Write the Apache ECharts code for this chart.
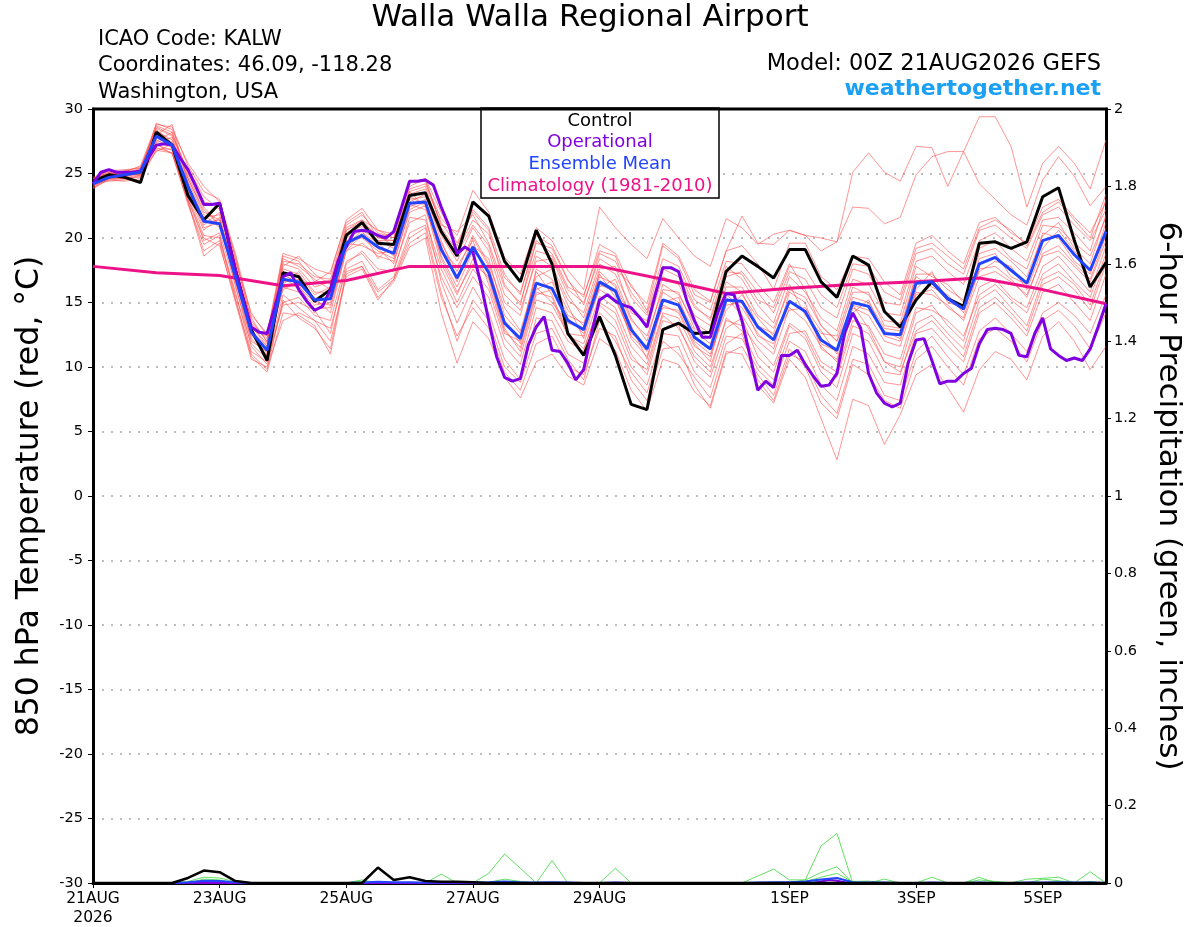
<!DOCTYPE html>
<html><head><meta charset="utf-8">
<script src="https://cdn.jsdelivr.net/npm/echarts@6/dist/echarts.min.js"></script>
<style>html,body{margin:0;padding:0;background:#fff}#c{width:1200px;height:927px}</style>
</head><body><div id="c"></div>
<script>
// ---- tick labels ----
const tickHours = [0, 48, 96, 144, 192, 264, 312, 360];
const tickLabels = ['21AUG\n2026', '23AUG', '25AUG', '27AUG', '29AUG', '1SEP', '3SEP', '5SEP'];

// ---- 850 hPa temperature (6-hourly, 65 steps) ----
const controlT = [24.4,24.9,24.7,24.3,28.2,27.2,23.3,21.4,22.7,17.5,12.9,10.5,17.3,17.0,15.1,16.0,
20.2,21.2,19.6,19.5,23.3,23.5,20.5,18.6,22.8,21.7,18.2,16.6,20.6,18.0,12.6,10.9,
13.9,10.9,7.1,6.7,12.9,13.4,12.6,12.7,17.4,18.6,17.8,16.9,19.1,19.1,16.6,15.4,
18.6,17.9,14.3,13.1,15.2,16.6,15.3,14.7,19.6,19.7,19.2,19.7,23.2,23.9,19.8,16.2,18.1];
const meanT = [24.2,24.7,24.9,25.1,27.9,27.2,24.0,21.3,21.1,17.0,12.7,11.3,16.8,16.6,15.2,15.3,
19.6,20.2,19.3,18.8,22.7,22.8,19.1,16.9,19.3,17.3,13.4,12.2,16.5,16.1,13.6,12.9,
16.6,15.9,12.9,11.4,15.2,14.8,12.3,11.4,15.2,15.1,13.1,12.1,15.1,14.3,12.1,11.3,
15.0,14.7,12.6,12.5,16.5,16.6,15.3,14.5,18.0,18.5,17.5,16.5,19.8,20.2,18.7,17.5,20.5];
// operational (3-hourly, 129 steps)
const operT = [24.2,25.1,25.3,25.1,25.1,25.1,25.2,26.2,27.2,27.3,27.2,26.2,25.3,24.0,22.6,22.6,
22.7,20.1,17.5,15.2,13.1,12.7,12.6,14.7,17.0,17.3,16.0,15.1,14.4,14.7,16.0,18.3,
19.3,20.5,20.6,20.5,20.2,20.0,20.5,22.4,24.4,24.4,24.5,24.1,22.4,20.9,18.8,19.3,
18.9,16.5,13.6,10.8,9.2,8.9,9.1,11.7,13.1,13.9,11.3,11.2,10.3,9.0,9.8,12.6,
15.2,15.6,15.1,14.8,14.6,13.9,13.1,15.5,17.7,17.7,17.4,15.2,13.6,12.3,12.3,14.3,
15.7,15.6,13.6,10.9,8.2,8.9,8.4,10.9,10.9,11.3,10.2,9.3,8.5,8.6,9.5,12.7,
14.2,13.0,9.5,8.0,7.2,6.9,7.2,10.3,12.1,12.2,10.5,8.7,8.9,8.9,9.5,9.9,
11.8,12.9,13.0,12.9,12.6,10.9,10.8,12.6,13.8,11.4,10.9,10.5,10.7,10.5,11.4,13.1,14.9];
// climatology (daily)
const climHours = [0,24,48,72,96,120,144,168,192,216,240,264,288,312,336,360,384];
const climT = [17.8,17.3,17.1,16.3,16.7,17.8,17.8,17.8,17.8,16.8,15.7,16.1,16.4,16.6,16.9,16.0,14.9];

// ensemble members (6-hourly)
const mem01 = [24.6,25.0,25.0,25.3,28.6,28.0,25.2,22.8,22.5,18.6,13.6,12.0,18.2,18.0,17.0,16.8,21.0,21.8,20.4,20.0,23.8,24.2,21.5,20.2,23.7,22.0,18.5,17.2,20.8,19.8,17.5,16.0,22.4,20.8,19.5,18.4,21.5,20.0,18.6,17.8,21.5,20.8,19.5,20.3,20.6,20.2,20.0,19.7,25.1,26.6,25.1,24.4,27.1,27.0,24.0,26.7,29.4,29.4,27.1,22.4,25.8,27.1,25.8,23.8,27.6];
const mem02 = [24.3,24.8,25.1,25.0,28.9,28.4,25.8,24.0,22.8,18.8,14.0,12.6,18.8,18.4,17.6,17.2,21.4,22.3,20.6,20.3,24.3,24.6,20.8,19.0,21.4,20.3,16.9,15.8,19.6,19.2,16.7,15.4,19.5,18.8,16.2,14.9,19.6,18.6,16.0,15.1,19.0,21.7,19.6,19.5,20.6,20.2,19.0,19.7,22.4,22.3,21.1,21.6,24.9,26.3,26.7,26.7,24.2,23.0,21.8,21.0,24.5,26.3,24.8,22.5,24.0];
const mem03 = [23.9,24.5,24.4,24.6,26.8,26.6,22.6,19.5,20.2,15.3,10.8,9.6,14.2,14.0,13.2,11.0,17.2,17.8,15.4,16.6,19.3,20.0,14.2,10.3,13.5,12.2,9.2,7.6,10.4,11.0,9.3,8.6,12.2,11.3,8.2,6.6,10.6,10.2,8.1,7.0,11.2,11.0,8.6,7.2,10.6,9.2,6.0,2.8,7.5,7.0,4.0,6.3,9.4,10.2,8.4,6.5,9.8,11.2,10.6,9.0,12.4,13.5,12.0,9.8,11.6];
const mem04 = [24.1,24.9,24.7,25.2,27.6,27.0,23.4,20.6,21.6,16.2,12.2,10.9,16.2,15.8,14.5,14.6,19.0,19.6,18.6,18.2,22.0,22.5,18.0,15.6,18.4,16.8,12.8,11.5,15.8,15.4,12.4,11.8,15.5,14.6,11.6,10.2,14.2,13.8,11.2,10.0,13.6,13.2,11.5,10.1,13.4,12.5,10.0,9.2,13.2,12.6,10.4,10.0,14.2,14.8,13.2,12.0,16.2,16.8,15.4,14.6,17.8,18.6,17.2,15.8,19.4];
const mem05 = [24.5,25.1,24.9,25.0,28.3,27.6,24.6,22.0,21.4,17.6,13.2,11.8,17.6,17.2,15.6,16.2,20.4,20.9,19.8,19.2,23.0,23.2,20.2,18.2,20.8,19.0,15.0,14.0,18.6,17.8,15.2,14.2,18.0,17.2,14.6,13.0,17.0,16.4,14.0,13.2,17.0,17.4,15.8,14.2,17.4,16.8,14.6,13.8,17.6,17.2,15.0,14.8,18.8,19.2,18.0,17.2,20.6,21.0,20.0,19.2,21.8,22.4,21.0,19.8,22.2];
const mem06 = [24.0,24.6,24.6,24.8,27.2,26.8,23.0,19.8,20.4,16.4,11.6,10.2,15.0,15.4,14.0,13.6,18.2,18.8,17.2,17.6,21.2,21.8,16.6,13.4,16.2,14.2,10.6,9.0,13.8,13.6,11.0,10.3,14.2,13.0,10.0,8.6,12.6,12.4,9.6,8.4,12.4,12.2,9.8,8.6,12.0,11.2,8.6,7.4,11.6,11.0,8.8,8.6,12.6,13.0,11.6,10.4,14.2,15.0,13.8,12.4,15.8,16.4,15.0,13.6,17.2];
const mem07 = [24.4,24.7,25.2,25.5,28.0,28.8,24.2,21.0,22.0,17.8,12.6,11.4,17.0,16.0,14.8,15.0,19.4,20.6,18.4,19.6,23.6,22.4,19.6,17.4,20.2,18.0,14.6,12.8,17.0,17.6,14.8,12.2,16.2,16.8,13.8,12.0,16.4,15.6,13.4,12.6,16.6,15.8,13.2,12.6,16.4,14.0,12.6,12.4,16.2,15.6,13.6,13.4,17.8,17.0,16.4,15.0,19.2,19.8,18.4,17.6,21.0,20.8,19.6,18.6,21.6];
const mem08 = [23.8,24.6,24.8,25.0,27.4,27.8,23.8,20.8,21.2,16.6,13.0,11.0,16.4,17.4,15.8,15.8,19.8,20.0,19.0,18.4,22.4,23.0,18.6,16.2,19.0,17.6,13.6,11.8,16.0,16.6,14.0,13.4,17.2,15.4,12.4,11.2,15.8,15.0,12.8,11.8,15.6,14.6,12.6,11.4,15.8,15.0,11.4,10.6,14.6,14.0,12.0,11.6,15.6,16.0,14.6,13.8,17.6,17.8,16.8,15.4,18.8,19.4,18.0,16.8,20.2];
const mem09 = [24.7,25.2,25.0,25.4,28.4,27.4,25.4,23.2,22.2,18.2,14.2,12.4,18.6,18.2,16.6,17.4,21.2,22.0,20.0,20.4,24.0,24.6,22.0,19.6,22.2,20.8,17.2,15.6,20.2,19.4,16.8,14.8,18.8,18.2,15.8,14.2,18.4,17.8,15.2,14.4,18.2,18.0,16.4,15.0,18.0,16.0,13.2,12.0,14.8,13.0,10.4,9.6,12.8,13.6,12.2,10.8,14.6,15.4,14.2,12.8,16.4,17.0,16.0,14.4,18.0];
const mem10 = [24.2,24.4,24.5,24.9,26.9,26.9,22.8,18.6,19.6,15.0,10.6,10.0,13.6,14.2,13.6,12.0,17.0,17.6,15.2,16.8,19.6,20.4,15.4,12.4,14.6,13.0,9.6,8.2,11.8,12.4,10.0,9.4,13.0,12.4,9.0,7.4,11.4,11.6,8.6,6.8,11.0,11.6,9.4,7.8,11.4,10.0,7.2,6.0,10.2,9.4,7.4,6.8,10.6,11.6,10.0,8.6,12.2,13.0,12.0,10.4,13.6,14.4,13.2,11.4,14.2];
const mem11 = [24.3,25.0,24.8,25.3,28.1,27.1,24.4,21.8,20.8,17.2,12.8,11.6,16.6,16.8,15.0,14.8,19.2,20.4,19.6,18.6,22.6,22.2,19.0,17.8,19.8,16.4,12.6,12.0,17.4,15.6,12.6,12.4,17.4,16.2,13.2,10.6,15.0,15.4,12.0,11.0,14.4,15.6,13.8,12.4,14.4,14.6,12.8,11.0,15.4,15.0,13.0,12.8,17.0,16.2,15.6,14.2,18.4,18.8,17.0,16.4,20.4,20.0,18.2,17.2,20.8];
const mem12 = [24.0,24.8,25.0,24.9,27.8,27.4,23.6,21.6,21.8,16.8,12.0,11.2,17.2,16.4,14.2,15.6,19.6,19.4,18.8,19.0,22.8,23.4,19.8,16.8,19.4,18.4,14.0,12.6,16.2,15.0,13.4,13.0,16.0,15.2,12.6,11.6,14.6,14.4,11.8,10.4,15.4,14.0,12.0,11.0,14.6,13.6,11.6,10.4,14.2,15.2,12.4,12.0,16.0,17.4,15.0,14.6,17.4,18.2,17.8,16.0,19.2,20.6,19.0,17.4,21.2];
const mem13 = [24.6,25.1,25.1,25.6,28.8,28.6,25.6,23.6,23.0,18.4,13.4,12.2,17.8,18.6,17.2,16.4,20.8,21.4,20.6,20.0,24.4,24.4,21.0,20.5,21.8,19.6,16.2,15.0,19.0,18.6,16.0,15.0,18.4,17.6,16.4,14.4,19.4,18.4,15.6,15.0,19.0,19.4,18.0,16.0,19.6,19.6,17.0,16.0,18.6,18.4,16.6,15.6,19.6,20.2,19.0,18.0,21.2,21.6,20.4,19.6,22.4,23.0,21.6,20.4,22.8];
const mem14 = [24.2,24.6,24.7,25.1,27.0,26.6,23.2,20.2,20.0,15.8,11.2,10.4,15.6,14.6,13.6,13.0,17.6,18.2,16.0,17.0,20.4,21.0,17.0,14.6,17.0,15.4,11.6,10.2,14.6,14.2,12.0,11.2,15.0,14.2,11.0,9.4,13.6,13.2,10.4,9.2,13.0,13.8,10.8,9.6,13.2,12.2,9.6,8.4,12.6,12.0,9.6,9.4,13.4,14.0,12.6,11.4,15.2,16.0,14.6,13.2,16.8,17.4,16.4,14.8,18.4];
const mem15 = [24.4,24.9,25.2,25.2,28.5,27.9,24.8,22.4,21.0,17.4,13.8,11.9,18.0,17.6,16.2,16.6,20.6,21.2,20.2,19.4,23.4,23.8,20.6,18.8,21.0,19.4,15.6,14.4,18.2,18.4,15.6,13.8,17.6,17.8,14.2,13.6,17.6,17.0,14.6,13.8,17.8,16.8,14.8,13.4,17.0,15.8,13.8,12.8,16.8,16.4,14.2,14.0,18.2,18.6,17.4,16.4,19.8,20.4,19.2,18.2,21.4,21.6,20.4,19.0,23.0];
const mem16 = [23.9,24.7,24.6,24.7,27.3,26.5,22.8,19.0,19.8,15.6,11.8,10.6,14.8,15.0,14.4,12.6,18.0,19.0,17.6,17.4,21.6,21.4,17.6,15.0,17.6,16.0,12.2,10.8,15.2,14.8,12.6,11.4,14.8,13.6,10.6,9.8,14.0,13.0,10.8,9.6,13.8,12.8,10.2,9.0,12.6,12.8,10.4,9.6,13.6,13.2,11.0,10.6,14.6,14.4,13.6,12.4,15.6,16.4,15.2,14.2,17.2,18.0,16.6,15.4,18.8];
const mem17 = [24.5,24.8,24.9,25.2,28.0,27.0,24.0,21.2,21.4,17.0,12.4,11.4,16.0,16.6,15.4,14.2,19.0,20.2,19.2,18.0,22.2,22.8,18.4,15.8,18.0,17.0,13.0,11.2,15.6,16.0,13.8,12.6,16.4,15.8,12.2,10.8,14.8,14.2,11.6,10.8,14.8,15.0,12.4,11.8,15.2,14.2,11.8,11.2,14.8,14.4,12.8,12.2,15.8,15.6,14.8,13.6,17.0,17.4,16.6,15.6,18.6,19.0,17.8,16.6,19.8];
const mem18 = [24.1,25.0,25.1,24.8,27.5,28.2,24.6,22.2,21.0,17.8,13.2,11.6,17.4,16.2,15.0,15.6,20.0,20.6,19.8,19.8,23.2,22.6,19.4,16.6,20.0,17.8,13.6,12.2,17.6,16.8,14.4,13.2,17.0,16.4,13.6,12.4,16.0,15.8,13.0,12.2,16.2,16.2,14.0,13.0,16.0,15.4,13.2,12.0,15.8,15.8,13.2,13.0,17.2,17.2,16.0,15.2,18.8,19.2,18.2,17.0,20.2,21.2,19.2,18.0,21.8];
const mem19 = [24.3,24.5,24.6,25.0,26.7,27.3,23.0,20.0,19.4,15.2,11.0,9.8,15.2,13.8,13.0,11.4,17.4,17.8,15.8,16.8,20.0,20.8,15.8,12.0,15.2,13.6,10.0,8.8,12.6,13.0,10.6,9.0,13.6,12.0,9.6,8.0,12.0,11.0,9.2,7.6,11.8,12.6,9.0,7.4,11.0,10.4,7.8,6.4,10.6,10.2,7.8,7.4,11.2,12.4,10.8,9.4,12.8,13.8,12.6,11.2,14.2,15.0,14.0,12.6,15.6];
const mem20 = [24.6,25.2,25.3,25.4,28.7,28.2,25.0,22.6,22.6,18.0,13.0,12.4,18.4,17.8,16.8,16.0,20.6,21.4,20.0,19.8,23.6,24.0,21.2,19.4,22.0,20.6,16.4,14.8,19.8,18.8,16.2,15.6,19.0,18.6,15.4,14.0,17.8,17.4,14.8,13.6,17.4,17.2,15.2,14.6,17.8,17.6,15.6,14.6,18.0,17.8,15.8,15.2,19.2,19.6,18.6,17.6,20.8,21.4,20.6,19.4,22.0,22.8,21.4,20.0,23.4];
const membersT = [mem01,mem02,mem03,mem04,mem05,mem06,mem07,mem08,mem09,mem10,mem11,mem12,mem13,mem14,mem15,mem16,mem17,mem18,mem19,mem20];

// ---- 6-hour precipitation (inches) ----
const controlP = [0,0,0,0,0,0,0.013,0.032,0.028,0.005,0,0,0,0,0,0,
0,0,0.04,0.008,0.015,0.005,0.003,0.003,0.002,0,0,0,0,0,0,0,
0,0,0,0,0,0,0,0,0,0,0,0,0,0,0,0,
0,0,0,0,0,0,0,0,0,0,0,0,0,0,0,0,0];
const meanP = [0,0,0,0,0,0,0.002,0.006,0.005,0.002,0,0,0,0,0,0,
0,0.001,0.003,0.002,0.002,0.001,0.002,0.001,0.001,0.002,0.004,0.002,0.001,0.002,0.001,0,
0,0.001,0,0,0,0,0,0,0,0,0.001,0.002,0.002,0.004,0.009,0.013,
0.002,0.001,0.001,0,0,0.001,0,0,0.001,0,0,0.001,0.001,0.002,0.001,0.001,0];
const operP = [0,0,0,0,0,0,0,0,0,0,0,0,0,0,0,0,0,0,0,0,0,0,0,0,0,0,0,0,0,0,0,0,
0,0,0,0,0,0,0,0,0,0,0,0,0,0,0,0,0,0,0,0,0,0,0,0,0,0,0,0,0,0,0,0,
0,0,0,0,0,0,0,0,0,0,0,0,0,0,0,0,0,0,0,0,0,0,0,0,0,0,0,0,0.004,0.008,0.006,0.002,
0,0,0,0,0,0,0,0,0,0,0,0,0,0,0,0,0,0,0,0,0,0,0,0,0,0,0,0,0,0,0,0,0];
const pm01 = [0,0,0,0,0,0,0,0,0,0,0,0,0,0,0,0,0,0,0,0,0,0,0.023,0,0,0,0,0,0,0,0,0,0,0.038,0,0,0,0,0,0,0,0,0,0,0,0.008,0.096,0.128,0,0,0,0,0,0,0,0,0,0,0,0,0,0,0,0,0];
const pm02 = [0,0,0,0,0,0,0,0.004,0.003,0,0,0,0,0,0,0,0,0,0,0,0,0,0,0,0,0.025,0.075,0.038,0,0.058,0,0,0,0,0,0,0,0,0,0,0,0,0,0,0,0,0,0,0,0,0,0,0,0,0,0,0,0,0,0,0,0,0,0,0];
const pm03 = [0,0,0,0,0,0,0.004,0.015,0.013,0.003,0,0,0,0,0,0,0,0.008,0,0,0,0,0,0,0,0,0,0,0,0,0,0,0,0,0,0,0,0,0,0,0,0,0.018,0.036,0.008,0.008,0.027,0.042,0,0,0,0,0,0,0,0,0,0,0,0,0,0,0,0,0];
const pm04 = [0,0,0,0,0,0,0,0,0,0,0,0,0,0,0,0,0,0,0,0,0,0,0,0,0.003,0.002,0.01,0.004,0,0,0,0,0,0,0,0,0,0,0,0,0,0,0,0,0,0.004,0.015,0.025,0.003,0,0.01,0,0,0.015,0,0,0.015,0,0,0.01,0.012,0.015,0,0.029,0];
const pm05 = [0,0,0,0,0,0,0,0.01,0.008,0,0,0,0,0,0,0,0,0.004,0.002,0,0,0,0,0,0,0,0,0,0,0,0,0,0,0,0,0,0,0,0,0,0,0,0,0,0,0,0.005,0.012,0.004,0.005,0,0,0,0,0,0,0.008,0.004,0,0,0.01,0.006,0,0.004,0];
const membersP = [pm01, pm02, pm03, pm04, pm05];

// ---- build ----
const h6 = i => i * 6, h3 = i => i * 3;
const pairs = (arr, f) => arr.map((v, i) => [f(i), v]);

const RED = 'rgba(255,70,70,0.72)';
const GREEN = 'rgba(70,220,70,0.95)';
const PURPLE = '#7f00e0';
const BLUE = '#2244ff';
const PINK = '#ee1289';
const FONT = '"DejaVu Sans", "Liberation Sans", Arial, sans-serif';

const series = [];
membersT.forEach((m, i) => series.push({type:'line', name:'m'+i, data:pairs(m,h6), showSymbol:false, lineStyle:{color:RED, width:0.8}, z:1}));
membersP.forEach((m, i) => series.push({type:'line', name:'p'+i, yAxisIndex:1, data:pairs(m,h6), showSymbol:false, lineStyle:{color:GREEN, width:0.9}, z:2}));
series.push({type:'line', yAxisIndex:1, data:pairs(operP,h3), showSymbol:false, lineStyle:{color:PURPLE, width:2}, z:3});
series.push({type:'line', yAxisIndex:1, data:pairs(meanP,h6), showSymbol:false, lineStyle:{color:BLUE, width:2}, z:3});
series.push({type:'line', yAxisIndex:1, data:pairs(controlP,h6), showSymbol:false, lineStyle:{color:'#000', width:2.5}, z:4});
series.push({type:'line', data:climHours.map((h,i)=>[h, climT[i]]), showSymbol:false, lineStyle:{color:PINK, width:3}, z:5});
series.push({type:'line', data:pairs(controlT,h6), showSymbol:false, lineStyle:{color:'#000', width:3}, z:6});
series.push({type:'line', data:pairs(operT,h3), showSymbol:false, lineStyle:{color:PURPLE, width:3}, z:7});
series.push({type:'line', data:pairs(meanT,h6), showSymbol:false, lineStyle:{color:BLUE, width:3}, z:8});

const chart = echarts.init(document.getElementById('c'), null, {renderer:'canvas'});
const txt = (x, y, text, opt) => Object.assign({type:'text', x, y, z:100,
  style: Object.assign({text, font:'21px ' + FONT, fill:'#000', align:'left', verticalAlign:'middle', textAlign:'left', textVerticalAlign:'middle'}, opt || {})});

chart.setOption({
  animation: false,
  backgroundColor: '#fff',
  grid: {left: 93, right: 94, top: 109, bottom: 44, show: false},
  xAxis: {
    type: 'value', min: 0, max: 384, interval: 48,
    axisLine: {show: true, onZero: false, lineStyle: {color: '#000', width: 3}},
    axisTick: {show: true, length: 5, lineStyle: {color: '#000', width: 1}, customValues: tickHours},
    axisLabel: {color: '#000', fontSize: 15.5, fontFamily: FONT, margin: 6, lineHeight: 19,
      customValues: tickHours,
      formatter: v => { const i = tickHours.indexOf(v); return i >= 0 ? tickLabels[i] : ''; }},
    splitLine: {show: false}
  },
  yAxis: [{
    type: 'value', min: -30, max: 30, interval: 5, position: 'left',
    axisLine: {show: true, onZero: false, lineStyle: {color: '#000', width: 3}},
    axisTick: {show: true, length: 5, lineStyle: {color: '#000'}},
    axisLabel: {color: '#000', fontSize: 14.5, fontFamily: FONT, margin: 10},
    splitLine: {show: true, lineStyle: {color: '#a8a8a8', width: 1.5, type: [2, 7]}}
  }, {
    type: 'value', min: 0, max: 2, interval: 0.2, position: 'right',
    axisLine: {show: true, onZero: false, lineStyle: {color: '#000', width: 3}},
    axisTick: {show: true, length: 5, lineStyle: {color: '#000'}},
    axisLabel: {color: '#000', fontSize: 14.5, fontFamily: FONT, margin: 8},
    splitLine: {show: false}
  }],
  series: series.map(s => Object.assign({silent: true, animation: false}, s)),
  graphic: [
    {type: 'line', z: 95, shape: {x1: 92, y1: 109, x2: 1108, y2: 109}, style: {stroke: '#000', lineWidth: 3}},
    txt(590, 18, 'Walla Walla Regional Airport', {font: '31px ' + FONT, align: 'center', textAlign: 'center'}),
    txt(98, 40, 'ICAO Code: KALW'),
    txt(98, 66, 'Coordinates: 46.09, -118.28'),
    txt(98, 93, 'Washington, USA'),
    txt(1101, 64, 'Model: 00Z 21AUG2026 GEFS', {font: '22.5px ' + FONT, align: 'right', textAlign: 'right'}),
    txt(1101, 89, 'weathertogether.net', {font: 'bold 22px ' + FONT, fill: '#1aa0f5', align: 'right', textAlign: 'right'}),
    {type: 'rect', z: 90, shape: {x: 481, y: 108, width: 238, height: 90}, style: {fill: '#fff', stroke: '#000', lineWidth: 1.5}},
    txt(600, 121, 'Control', {font: '18px ' + FONT, align: 'center', textAlign: 'center'}),
    txt(600, 142, 'Operational', {font: '18px ' + FONT, align: 'center', textAlign: 'center', fill: PURPLE}),
    txt(600, 164, 'Ensemble Mean', {font: '18px ' + FONT, align: 'center', textAlign: 'center', fill: BLUE}),
    txt(600, 186, 'Climatology (1981-2010)', {font: '18px ' + FONT, align: 'center', textAlign: 'center', fill: PINK}),
    Object.assign(txt(30, 496, '850 hPa Temperature (red, °C)', {font: '31.5px ' + FONT, align: 'center', textAlign: 'center'}), {rotation: Math.PI / 2}),
    Object.assign(txt(1168, 496, '6-hour Precipitation (green, inches)', {font: '31px ' + FONT, align: 'center', textAlign: 'center'}), {rotation: -Math.PI / 2})
  ]
});
</script></body></html>
